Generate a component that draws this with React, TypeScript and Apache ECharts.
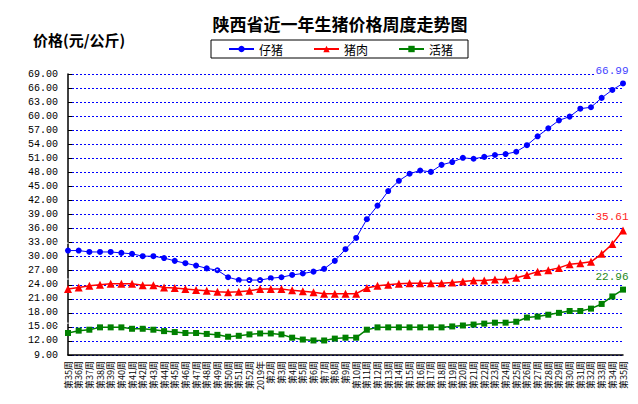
import React, { useEffect, useRef } from "react";
import * as echarts from "echarts";

const weeks: string[] = [
  "第35周", "第36周", "第37周", "第38周", "第39周", "第40周", "第41周", "第42周", "第43周",
  "第44周", "第45周", "第46周", "第47周", "第48周", "第49周", "第50周", "第51周", "第52周",
  "2019年",
  "第2周", "第3周", "第4周", "第5周", "第6周", "第7周", "第8周", "第9周", "第10周",
  "第11周", "第12周", "第13周", "第14周", "第15周", "第16周", "第17周", "第18周", "第19周",
  "第20周", "第21周", "第22周", "第23周", "第24周", "第25周", "第26周", "第27周", "第28周",
  "第29周", "第30周", "第31周", "第32周", "第33周", "第34周", "第35周",
];

const piglet: number[] = [
  31.3, 31.3, 31.0, 31.0, 31.0, 30.8, 30.6, 30.1, 30.1, 29.7, 29.1, 28.6, 28.1, 27.5, 27.1,
  25.6, 25.0, 25.0, 25.0, 25.4, 25.6, 26.1, 26.4, 26.8, 27.4, 29.1, 31.6, 34.0, 38.0, 40.9,
  44.0, 46.2, 47.7, 48.4, 48.1, 49.6, 50.2, 51.1, 50.9, 51.3, 51.7, 51.9, 52.4, 53.8, 55.7,
  57.4, 59.1, 59.9, 61.6, 61.9, 63.9, 65.6, 66.99,
];

const pork: number[] = [
  23.1, 23.4, 23.8, 24.0, 24.2, 24.2, 24.2, 23.9, 23.9, 23.4, 23.3, 23.1, 22.9, 22.7, 22.5,
  22.4, 22.5, 22.7, 23.1, 23.1, 23.1, 22.8, 22.6, 22.4, 22.1, 22.1, 22.1, 22.1, 23.3, 23.8,
  24.0, 24.2, 24.3, 24.3, 24.3, 24.3, 24.5, 24.7, 24.9, 24.9, 25.1, 25.1, 25.5, 26.1, 26.8,
  27.1, 27.6, 28.4, 28.6, 28.9, 30.6, 32.7, 35.61,
];

const livePig: number[] = [
  13.7, 14.2, 14.4, 14.9, 14.9, 14.9, 14.6, 14.6, 14.4, 14.1, 13.9, 13.7, 13.7, 13.5, 13.3,
  12.9, 13.1, 13.4, 13.6, 13.6, 13.4, 12.7, 12.3, 12.1, 12.1, 12.5, 12.7, 12.7, 14.4, 14.9,
  14.9, 14.9, 14.9, 14.9, 14.9, 14.9, 15.1, 15.3, 15.5, 15.7, 15.9, 15.9, 16.1, 17.0, 17.2,
  17.6, 18.0, 18.4, 18.4, 18.9, 19.9, 21.5, 22.96,
];

const seriesNames = ["仔猪", "猪肉", "活猪"];

export default function App() {
  const ref = useRef<HTMLDivElement>(null);

  useEffect(() => {
    if (!ref.current) return;
    const chart = echarts.init(ref.current, undefined, { renderer: "svg" });
    const lastIdx = weeks.length - 1;

    const mkSeries = (
      name: string,
      data: number[],
      color: string,
      labelColor: string,
      symbol: string,
      symbolSize: number,
      width: number
    ) => ({
      name,
      type: "line",
      data,
      symbol,
      symbolSize,
      showAllSymbol: true,
      lineStyle: { color, width },
      itemStyle: { color },
      label: {
        show: true,
        position: "top",
        offset: [-11, 1],
        color: labelColor,
        fontFamily: "Liberation Mono",
        fontSize: 11,
        formatter: (p: any) => (p.dataIndex === lastIdx ? Number(p.value).toFixed(2) : ""),
        backgroundColor: "#ffffff",
        padding: [1, 1, 0, 1],
      },
    });

    chart.setOption({
      animation: false,
      backgroundColor: "#ffffff",
      title: {
        text: "陕西省近一年生猪价格周度走势图",
        left: 335,
        top: 10,
        textAlign: "center",
        textStyle: {
          fontFamily: "Noto Sans CJK SC",
          fontSize: 17,
          fontWeight: "bold",
          color: "#000",
        },
      },
      legend: {
        left: 211,
        top: 40,
        padding: [3, 15, 3, 17],
        borderColor: "#000",
        borderWidth: 1,
        itemGap: 30,
        itemWidth: 25,
        itemHeight: 8,
        textStyle: { fontFamily: "Noto Sans CJK SC", fontSize: 12, color: "#000" },
        data: seriesNames,
      },
      graphic: [
        {
          type: "text",
          left: 33,
          top: 32,
          style: {
            text: "价格(元/公斤)",
            fontFamily: "Noto Sans CJK SC",
            fontSize: 15,
            fontWeight: "bold",
            fill: "#000",
          },
        },
      ],
      grid: { left: 68, right: 15, top: 74, bottom: 49, containLabel: false },
      xAxis: {
        type: "category",
        data: weeks,
        boundaryGap: false,
        axisLine: { lineStyle: { color: "#000", width: 1.5 } },
        axisTick: { show: false },
        axisLabel: {
          interval: 0,
          rotate: 90,
          margin: 6,
          fontFamily: "Noto Sans CJK SC",
          fontSize: 9,
          color: "#000",
        },
        splitLine: { show: false },
      },
      yAxis: {
        type: "value",
        min: 9,
        max: 69,
        interval: 3,
        axisLine: { show: true, lineStyle: { color: "#000", width: 1.5 } },
        axisTick: { show: true, inside: true, length: 4, lineStyle: { color: "#000" } },
        axisLabel: {
          formatter: (v: number) => v.toFixed(2),
          fontFamily: "Liberation Mono",
          fontSize: 10,
          color: "#000",
          margin: 10,
        },
        splitLine: {
          show: true,
          lineStyle: { color: "#0000ff", width: 1, type: [2, 2] },
        },
      },
      series: [
        mkSeries("仔猪", piglet, "#0000ff", "#4444ff", "circle", 6, 1),
        mkSeries("猪肉", pork, "#ff0000", "#ff2222", "triangle", 8, 1.5),
        mkSeries("活猪", livePig, "#008000", "#228822", "rect", 6, 1.5),
      ],
    });

    return () => chart.dispose();
  }, []);

  return (
    <div
      ref={ref}
      style={{ position: "fixed", left: 0, top: 0, width: 638, height: 404, background: "#fff" }}
    />
  );
}
